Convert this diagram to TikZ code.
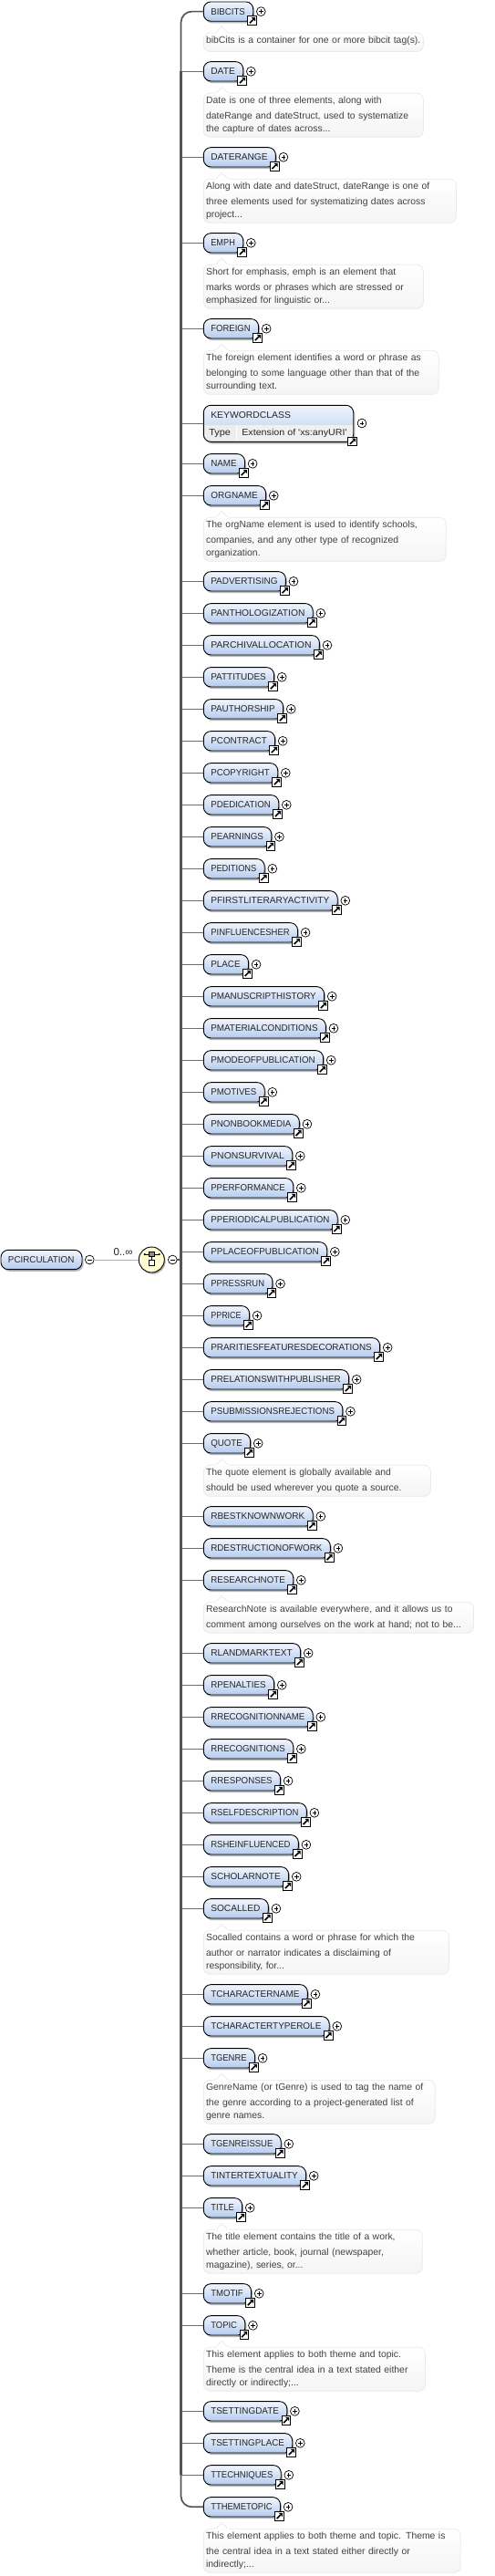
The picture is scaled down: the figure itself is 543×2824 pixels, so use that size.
\documentclass[tikz,border=0pt]{standalone}
\usepackage{fontspec}
\usepackage{graphicx}
\setmainfont{Liberation Sans}
\usetikzlibrary{shadows}
\definecolor{elemtop}{HTML}{F2F6FD}
\definecolor{elembot}{HTML}{B4CBEE}
\definecolor{spinecol}{HTML}{555555}
\definecolor{branchcol}{HTML}{6E6E6E}
\definecolor{notetext}{HTML}{404040}
\definecolor{noteline}{HTML}{E9E9E9}
\definecolor{seqfill}{HTML}{FFFBD2}
\tikzset{
  boxshadow/.style={drop shadow={shadow xshift=1.6pt,shadow yshift=-2.2pt,fill=black,opacity=.28}},
  elembox/.style={draw=black,line width=.9pt,rounded corners=8pt,top color=elemtop,bottom color=elembot,
    boxshadow,anchor=west,minimum height=21.3pt,inner xsep=8pt,inner ysep=0pt,outer sep=0pt,
    text height=7pt,text depth=0pt,align=left,font=\fontsize{10}{11}\selectfont,text=black!85},
  linkicon/.style={draw=black,fill=white,line width=.9pt,minimum size=9.6pt,inner sep=0pt,outer sep=0pt},
  expander/.style={circle,draw=black,fill=white,line width=.7pt,minimum size=9.8pt,inner sep=0pt,outer sep=0pt},
  sign/.style={draw=black,line width=.7pt},
  notebox/.style={draw=noteline,line width=.7pt,rounded corners=7pt,top color=white,bottom color=black!4,
    anchor=north west,inner xsep=2.8pt,inner ysep=0pt,outer sep=0pt,align=left,
    font=\fontsize{10.4}{14}\selectfont,text=notetext},
  notepeak/.style={draw=noteline,line width=.7pt,fill=white},
  branch/.style={draw=branchcol,line width=1.6pt},
  spinethin/.style={draw=spinecol,line width=1.7pt,rounded corners=12pt},
  spinethick/.style={draw=spinecol,line width=2.7pt},
  plainlabel/.style={inner sep=0pt,outer sep=0pt,font=\fontsize{10}{11}\selectfont,text=black!85},
}
\newcommand{\elemlink}[3]{% id, x, y
  \node[linkicon] (#1-link) at (#2,#3) {};
  \fill[shift={(#1-link.center)}] (3.4,-3.4) -- (-.8,-3.4) -- (3.4,.8) -- cycle;
  \draw[shift={(#1-link.center)},line width=1.6pt] (-2.8,2.8) -- (1.2,-1.2);
}
\newcommand{\elemplus}[3]{% id, x, y
  \node[expander] (#1-plus) at (#2,#3) {};
  \draw[sign,shift={(#1-plus.center)}] (-2.3,0) -- (2.3,0) (0,-2.3) -- (0,2.3);
}
\newcommand{\elembare}[4]{% id, text, centre y, right x
  \pgfmathsetmacro{\innerw}{#4-223.3-16}
  \pgfmathsetmacro{\labelw}{#4-240.1}
  \node[elembox,text width=\innerw pt] (#1) at (223.3,#3) {\resizebox{\labelw pt}{7pt}{#2}};
  \pgfmathsetmacro{\iconx}{#4-1}
  \pgfmathsetmacro{\icony}{#3+10}
  \pgfmathsetmacro{\plusx}{#4+8.6}
  \elemlink{#1}{\iconx}{\icony}
  \elemplus{#1}{\plusx}{#3}
}
\newcommand{\elem}[4]{%
  \elembare{#1}{#2}{#3}{#4}
  \draw[branch] (spine |- #1.west) -- (#1.west);
}
\newcommand{\note}[5]{% id, top y, right x, height, text
  \pgfmathsetmacro{\notew}{#3-223.3-5.6}
  \node[notebox,text width=\notew pt,minimum height=#4pt] (#1-note) at (223.3,#2) {\vspace*{2.4pt}#5};
  \path[notepeak] ([shift={(12.9pt,-.4pt)}]#1-note.north west) -- ([shift={(20pt,7pt)}]#1-note.north west)
     -- ([shift={(27.1pt,-.4pt)}]#1-note.north west) -- cycle;
  \fill[white] ([shift={(12.2pt,-1.1pt)}]#1-note.north west) rectangle ([shift={(27.8pt,-.1pt)}]#1-note.north west);
}
\begin{document}
\begin{tikzpicture}[x=1pt,y=-1pt]
\useasboundingbox (0,0) rectangle (543,2824);
\fill[white] (0,0) rectangle (543,2824);
\coordinate (spine) at (198.5,1381);

% root
\node[elembox,text width=73pt] (root) at (1,1381) {\resizebox{72.4pt}{7pt}{PCIRCULATION}};
\node[expander] (rootminus) at (98.3,1381) {};
\draw[sign,shift={(rootminus.center)}] (-2.3,0) -- (2.3,0);
\node[circle,draw=black,line width=.9pt,fill=seqfill,minimum size=28pt,inner sep=0pt,outer sep=0pt,
  drop shadow={shadow xshift=1.4pt,shadow yshift=-1.8pt,fill=black,opacity=.28}] (seq) at (166.3,1381) {};
\node[expander] (seqminus) at (189.3,1381) {};
\draw[sign,shift={(seqminus.center)}] (-2.3,0) -- (2.3,0);
\draw[draw=black!30,line width=.8pt] (rootminus) -- (seq);
\draw[draw=spinecol,line width=1.2pt] (seqminus) -- (spine);
\node[plainlabel,anchor=center] (card) at (135,1373) {\resizebox{21pt}{!}{0..∞}};
% sequence glyph
\begin{scope}[shift={(seq.center)}]
  \draw[black,line width=.8pt] (0,-3) -- (0,3);
  \draw[black,line width=.9pt] (-7.4,-6) -- (8.2,-6);
  \fill[black] (-7.6,-6) circle (1.2) (8.4,-6) circle (1.2);
  \draw[black,fill=black!45,line width=.7pt] (-2.7,-8.4) rectangle (3,-3.4);
  \draw[black,fill=white,line width=.7pt] (-3,.7) rectangle (3.4,6.7);
\end{scope}

% children
\elembare{bibcits}{BIBCITS}{12.6}{277.7}
\note{bibcits}{36}{464.4}{20.5}{bibCits is a container for one or more bibcit tag(s).}
\elem{date}{DATE}{78.3}{266.7}
\note{date}{102.3}{464.4}{48}{Date is one of three elements, along with\\dateRange and dateStruct, used to systematize\\the capture of dates across...}
\elem{daterange}{DATERANGE}{172.3}{302.3}
\note{daterange}{196.3}{500.4}{48}{Along with date and dateStruct, dateRange is one of\\three elements used for systematizing dates across\\project...}
\elem{emph}{EMPH}{266.3}{266.7}
\note{emph}{290.3}{464.4}{48}{Short for emphasis, emph is an element that\\marks words or phrases which are stressed or\\emphasized for linguistic or...}
\elem{foreign}{FOREIGN}{360.3}{283.6}
\note{foreign}{384.3}{481.3}{48}{The foreign element identifies a word or phrase as\\belonging to some language other than that of the\\surrounding text.}

% keyword class (element with a type row)
\node[draw=black,line width=.9pt,rounded corners=8pt,fill=white,boxshadow,anchor=west,
  minimum width=164.4pt,minimum height=40pt,inner sep=0pt,outer sep=0pt,
  path picture={
    \shade[sharp corners,top color=elemtop,bottom color=elembot] (-83,-21) rectangle (83,.7);
    \fill[sharp corners,black!7] (-83,1.3) rectangle (-46.4,21);
    \fill[sharp corners,black!6] (-45.6,1.3) rectangle (83,21);
  }] (kw) at (223.3,464.3) {};
\draw[branch] (spine |- kw.west) -- (kw.west);
\node[plainlabel,anchor=west] (kw-title) at (231.3,455) {\resizebox{87.7pt}{7pt}{KEYWORDCLASS}};
\node[plainlabel,anchor=west] (kw-type) at (229.3,475) {\resizebox{23.7pt}{7pt}{Type}};
\node[plainlabel,anchor=west] (kw-value) at (265.3,475) {\resizebox{115.4pt}{7.2pt}{Extension of \textquotesingle xs:anyURI\textquotesingle}};
\elemlink{kw}{386.7}{484}
\elemplus{kw}{397}{464}

\elem{name}{NAME}{508.3}{268.5}
\elem{orgname}{ORGNAME}{543.3}{291.6}
\note{orgname}{567.3}{489.3}{48}{The orgName element is used to identify schools,\\companies, and any other type of recognized\\organization.}
\elem{padvertising}{PADVERTISING}{637.3}{313.4}
\elem{panthologization}{PANTHOLOGIZATION}{672.3}{343.2}
\elem{parchivallocation}{PARCHIVALLOCATION}{707.3}{350.4}
\elem{pattitudes}{PATTITUDES}{742.3}{300.6}
\elem{pauthorship}{PAUTHORSHIP}{777.3}{310.6}
\elem{pcontract}{PCONTRACT}{812.3}{301.6}
\elem{pcopyright}{PCOPYRIGHT}{847.3}{304.7}
\elem{pdedication}{PDEDICATION}{882.3}{305.7}
\elem{pearnings}{PEARNINGS}{917.3}{297.8}
\elem{peditions}{PEDITIONS}{952.3}{290.2}
\elem{pfirst}{PFIRSTLITERARYACTIVITY}{987.3}{370.2}
\elem{pinfluences}{PINFLUENCESHER}{1022.3}{326.5}
\elem{place}{PLACE}{1057.3}{272.5}
\elem{pmanuscript}{PMANUSCRIPTHISTORY}{1092.3}{355.6}
\elem{pmaterial}{PMATERIALCONDITIONS}{1127.3}{357.4}
\elem{pmode}{PMODEOFPUBLICATION}{1162.3}{354.6}
\elem{pmotives}{PMOTIVES}{1197.3}{290.2}
\elem{pnonbook}{PNONBOOKMEDIA}{1232.3}{328.3}
\elem{pnonsurvival}{PNONSURVIVAL}{1267.3}{320.7}
\elem{pperformance}{PPERFORMANCE}{1302.3}{321.7}
\elem{pperiodical}{PPERIODICALPUBLICATION}{1337.3}{370.2}
\elem{pplace}{PPLACEOFPUBLICATION}{1372.3}{358.7}
\elem{ppressrun}{PPRESSRUN}{1407.3}{298.9}
\elem{pprice}{PPRICE}{1442.3}{273.5}
\elem{prarities}{PRARITIESFEATURESDECORATIONS}{1477.3}{416.6}
\elem{prelations}{PRELATIONSWITHPUBLISHER}{1512.3}{382.6}
\elem{psubmissions}{PSUBMISSIONSREJECTIONS}{1547.3}{375.8}
\elem{quote}{QUOTE}{1582.3}{274.6}
\note{quote}{1606.3}{472.4}{34}{The quote element is globally available and\\should be used wherever you quote a source.}
\elem{rbest}{RBESTKNOWNWORK}{1662.3}{343.2}
\elem{rdestruction}{RDESTRUCTIONOFWORK}{1697.3}{362.3}
\elem{researchnote}{RESEARCHNOTE}{1732.3}{321.7}
\note{researchnote}{1756.3}{519.5}{34}{ResearchNote is available everywhere, and it allows us to\\comment among ourselves on the work at hand; not to be...}
\elem{rlandmark}{RLANDMARKTEXT}{1812.3}{329.6}
\elem{rpenalties}{RPENALTIES}{1847.3}{300.6}
\elem{rrecogname}{RRECOGNITIONNAME}{1882.3}{343.2}
\elem{rrecog}{RRECOGNITIONS}{1917.3}{321.7}
\elem{rresponses}{RRESPONSES}{1952.3}{307.5}
\elem{rself}{RSELFDESCRIPTION}{1987.3}{336.3}
\elem{rshe}{RSHEINFLUENCED}{2022.3}{327.3}
\elem{scholarnote}{SCHOLARNOTE}{2057.3}{316.6}
\elem{socalled}{SOCALLED}{2092.3}{294.3}
\note{socalled}{2116.3}{492.4}{48}{Socalled contains a word or phrase for which the\\author or narrator indicates a disclaiming of\\responsibility, for...}
\elem{tcharname}{TCHARACTERNAME}{2186.3}{337.3}
\elem{tchartype}{TCHARACTERTYPEROLE}{2221.3}{361.2}
\elem{tgenre}{TGENRE}{2256.3}{279.5}
\note{tgenre}{2280.3}{477.2}{48}{GenreName (or tGenre) is used to tag the name of\\the genre according to a project-generated list of\\genre names.}
\elem{tgenreissue}{TGENREISSUE}{2350.3}{308.2}
\elem{tintertext}{TINTERTEXTUALITY}{2385.3}{335.6}
\elem{title}{TITLE}{2420.3}{265.6}
\note{title}{2444.3}{463.3}{48}{The title element contains the title of a work,\\whether article, book, journal (newspaper,\\magazine), series, or...}
\elem{tmotif}{TMOTIF}{2514.3}{275.6}
\elem{topic}{TOPIC}{2549.3}{268.8}
\note{topic}{2573.3}{466.5}{48}{This element applies to both theme and topic.\\Theme is the central idea in a text stated either\\directly or indirectly;...}
\elem{tsettingdate}{TSETTINGDATE}{2643.3}{314.8}
\elem{tsettingplace}{TSETTINGPLACE}{2678.3}{320.7}
\elem{ttechniques}{TTECHNIQUES}{2713.3}{308.2}
\elembare{tthemetopic}{TTHEMETOPIC}{2748.3}{307.5}
\note{tthemetopic}{2772.3}{505.2}{48}{This element applies to both theme and topic. Theme is\\the central idea in a text stated either directly or\\indirectly;...}

% spine: the rounded outer run joins the first and last child, the heavy run the ones between
\draw[spinethin] (bibcits.west) -- (spine |- bibcits.west) -- (spine |- tthemetopic.west) -- (tthemetopic.west);
\draw[spinethick] (spine |- date.west) -- (spine |- ttechniques.west);
\end{tikzpicture}
\end{document}
